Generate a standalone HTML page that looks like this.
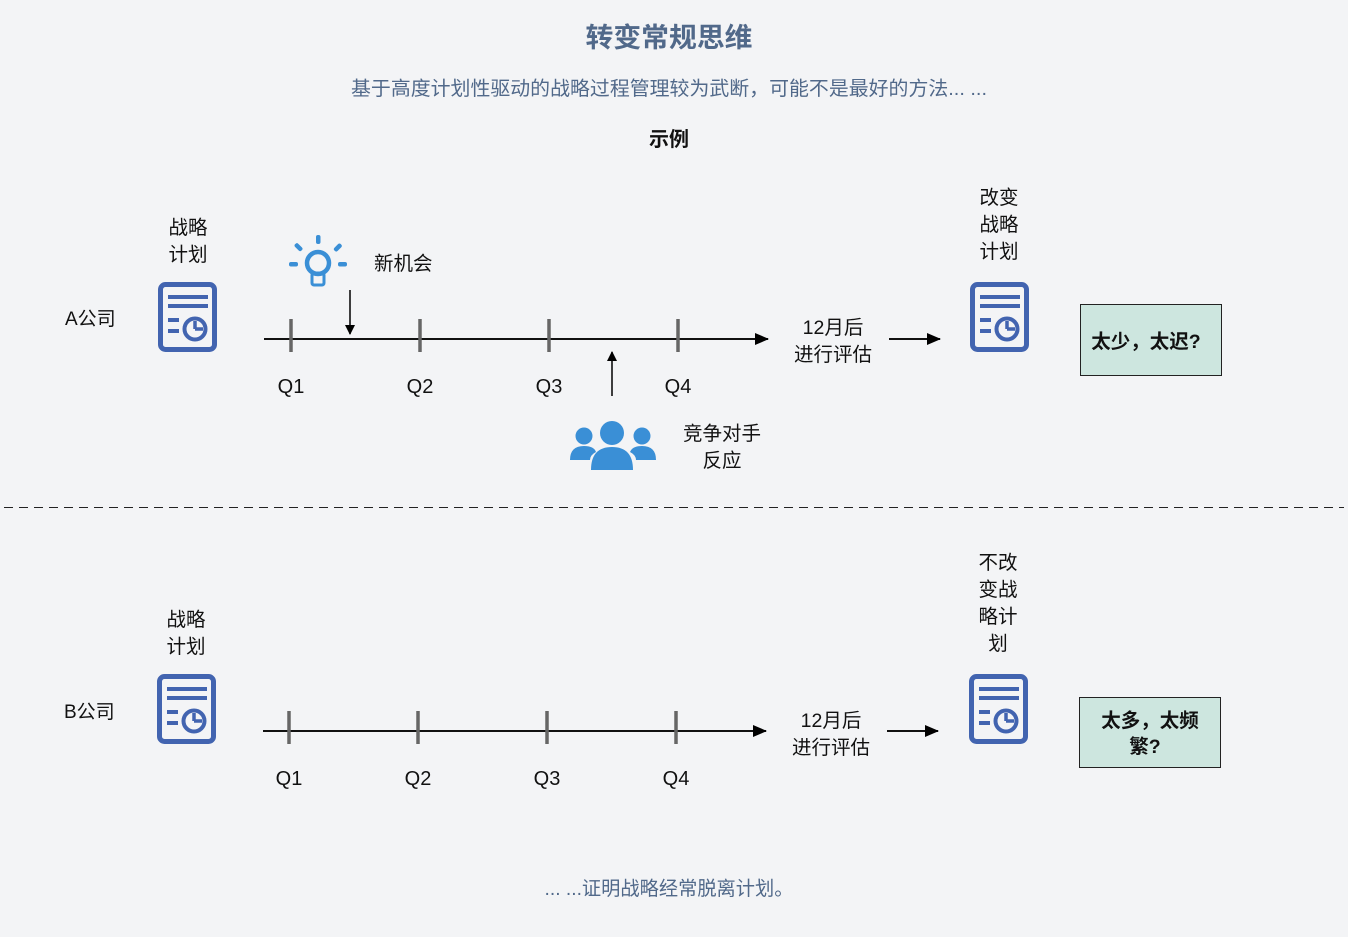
<!DOCTYPE html>
<html><head><meta charset="utf-8"><style>
html,body{margin:0;padding:0;background:#f3f4f6;}
svg{display:block;font-family:"Liberation Sans","Noto Sans CJK SC",sans-serif;}
</style></head><body>
<svg width="1348" height="937" viewBox="0 0 1348 937" xmlns="http://www.w3.org/2000/svg">
<defs>
<symbol id="doc" viewBox="0 0 60 72" overflow="visible">
<rect x="2.5" y="2.5" width="54" height="65" rx="5" fill="none" stroke="#4264b0" stroke-width="5"/>
<rect x="10" y="13" width="40" height="4" fill="#4264b0"/>
<rect x="10" y="22" width="40" height="4" fill="#4264b0"/>
<rect x="10" y="36" width="11" height="4" fill="#4264b0"/>
<rect x="10" y="47" width="11" height="4" fill="#4264b0"/>
<circle cx="37" cy="47" r="10.5" fill="none" stroke="#4264b0" stroke-width="4"/>
<path d="M37 47 V39 M37 47 H45" stroke="#4264b0" stroke-width="3.5" fill="none"/>
</symbol>
<marker id="ah" markerWidth="10" markerHeight="10" refX="9" refY="5" orient="auto" markerUnits="userSpaceOnUse"><path d="M0 0 L10 5 L0 10 z" fill="#000"/></marker>
<marker id="ah2" markerWidth="14" markerHeight="12" refX="13" refY="6" orient="auto" markerUnits="userSpaceOnUse"><path d="M0 0 L14 6 L0 12 z" fill="#000"/></marker>
</defs>

<text x="669" y="47" text-anchor="middle" font-size="27" font-weight="bold" fill="#51698a" textLength="167" lengthAdjust="spacingAndGlyphs">转变常规思维</text>
<text x="669" y="95" text-anchor="middle" font-size="19.5" fill="#51698a" textLength="636" lengthAdjust="spacingAndGlyphs">基于高度计划性驱动的战略过程管理较为武断，可能不是最好的方法... ...</text>
<text x="669" y="146" text-anchor="middle" font-size="20" font-weight="bold" fill="#111">示例</text>

<!-- A -->
<text x="65" y="325" font-size="19" fill="#111">A公司</text>
<text x="188" y="234" text-anchor="middle" font-size="19.5" fill="#111">战略</text>
<text x="188" y="261" text-anchor="middle" font-size="19.5" fill="#111">计划</text>
<use href="#doc" x="158" y="282" width="60" height="72"/>

<g fill="#3a8fd6">
<circle cx="318" cy="263" r="11" fill="none" stroke="#3a8fd6" stroke-width="4.5"/>
<rect x="312" y="273" width="12" height="12" rx="2" fill="none" stroke="#3a8fd6" stroke-width="3"/>
<rect x="316" y="235" width="4.5" height="9" rx="2"/>
<rect x="289" y="262" width="9" height="4.5" rx="2"/>
<rect x="338" y="262" width="9" height="4.5" rx="2"/>
<rect x="296" y="243" width="4.5" height="9" rx="2" transform="rotate(-45 298 247)"/>
<rect x="336" y="243" width="4.5" height="9" rx="2" transform="rotate(45 338 247)"/>
</g>
<text x="374" y="270" font-size="19.5" fill="#111">新机会</text>
<line x1="350" y1="290" x2="350" y2="334" stroke="#000" stroke-width="1.5" marker-end="url(#ah)"/>

<line x1="264" y1="339" x2="768" y2="339" stroke="#111" stroke-width="2" marker-end="url(#ah2)"/>
<g stroke="#666" stroke-width="3.5">
<line x1="291" y1="319" x2="291" y2="352"/><line x1="420" y1="319" x2="420" y2="352"/>
<line x1="549" y1="319" x2="549" y2="352"/><line x1="678" y1="319" x2="678" y2="352"/>
</g>
<g font-size="20" fill="#111" text-anchor="middle">
<text x="291" y="393">Q1</text><text x="420" y="393">Q2</text><text x="549" y="393">Q3</text><text x="678" y="393">Q4</text>
</g>
<line x1="612" y1="396" x2="612" y2="352" stroke="#000" stroke-width="1.5" marker-end="url(#ah)"/>
<g fill="#3a8fd6">
<circle cx="612" cy="433" r="12"/>
<path d="M591 470 Q591 447 612 447 Q633 447 633 470 Z"/>
<circle cx="584" cy="436" r="8.5"/>
<path d="M570 460 Q570 446 584 446 Q594 446 596 452 Q590 455 590 460 Z"/>
<circle cx="642" cy="436" r="8.5"/>
<path d="M656 460 Q656 446 642 446 Q632 446 630 452 Q636 455 636 460 Z"/>
</g>
<text x="722" y="440" text-anchor="middle" font-size="19.5" fill="#111">竞争对手</text>
<text x="722" y="467" text-anchor="middle" font-size="19.5" fill="#111">反应</text>

<text x="833" y="334" text-anchor="middle" font-size="19.5" fill="#111">12月后</text>
<text x="833" y="361" text-anchor="middle" font-size="19.5" fill="#111">进行评估</text>
<line x1="889" y1="339" x2="940" y2="339" stroke="#111" stroke-width="2" marker-end="url(#ah2)"/>
<text x="999" y="204" text-anchor="middle" font-size="19.5" fill="#111">改变</text>
<text x="999" y="231" text-anchor="middle" font-size="19.5" fill="#111">战略</text>
<text x="999" y="258" text-anchor="middle" font-size="19.5" fill="#111">计划</text>
<use href="#doc" x="970" y="282" width="60" height="72"/>
<rect x="1080.5" y="304.5" width="141" height="71" fill="#cde6df" stroke="#222" stroke-width="1"/>
<text x="1146" y="348" text-anchor="middle" font-size="19.5" font-weight="bold" fill="#111">太少，太迟?</text>

<line x1="4" y1="507.5" x2="1344" y2="507.5" stroke="#222" stroke-width="1" stroke-dasharray="9,6"/>

<!-- B -->
<text x="64" y="718" font-size="19" fill="#111">B公司</text>
<text x="186" y="626" text-anchor="middle" font-size="19.5" fill="#111">战略</text>
<text x="186" y="653" text-anchor="middle" font-size="19.5" fill="#111">计划</text>
<use href="#doc" x="157" y="674" width="60" height="72"/>
<line x1="263" y1="731" x2="766" y2="731" stroke="#111" stroke-width="2" marker-end="url(#ah2)"/>
<g stroke="#666" stroke-width="3.5">
<line x1="289" y1="711" x2="289" y2="744"/><line x1="418" y1="711" x2="418" y2="744"/>
<line x1="547" y1="711" x2="547" y2="744"/><line x1="676" y1="711" x2="676" y2="744"/>
</g>
<g font-size="20" fill="#111" text-anchor="middle">
<text x="289" y="785">Q1</text><text x="418" y="785">Q2</text><text x="547" y="785">Q3</text><text x="676" y="785">Q4</text>
</g>
<text x="831" y="727" text-anchor="middle" font-size="19.5" fill="#111">12月后</text>
<text x="831" y="754" text-anchor="middle" font-size="19.5" fill="#111">进行评估</text>
<line x1="887" y1="731" x2="938" y2="731" stroke="#111" stroke-width="2" marker-end="url(#ah2)"/>
<text x="998" y="569" text-anchor="middle" font-size="19.5" fill="#111">不改</text>
<text x="998" y="596" text-anchor="middle" font-size="19.5" fill="#111">变战</text>
<text x="998" y="623" text-anchor="middle" font-size="19.5" fill="#111">略计</text>
<text x="998" y="650" text-anchor="middle" font-size="19.5" fill="#111">划</text>
<use href="#doc" x="969" y="674" width="60" height="72"/>
<rect x="1079.5" y="697.5" width="141" height="70" fill="#cde6df" stroke="#222" stroke-width="1"/>
<text x="1150" y="727" text-anchor="middle" font-size="19.5" font-weight="bold" fill="#111">太多，太频</text>
<text x="1145" y="753" text-anchor="middle" font-size="19.5" font-weight="bold" fill="#111">繁?</text>

<text x="669" y="895" text-anchor="middle" font-size="19.5" fill="#51698a" textLength="249" lengthAdjust="spacingAndGlyphs">... ...证明战略经常脱离计划。</text>
</svg>
</body></html>
